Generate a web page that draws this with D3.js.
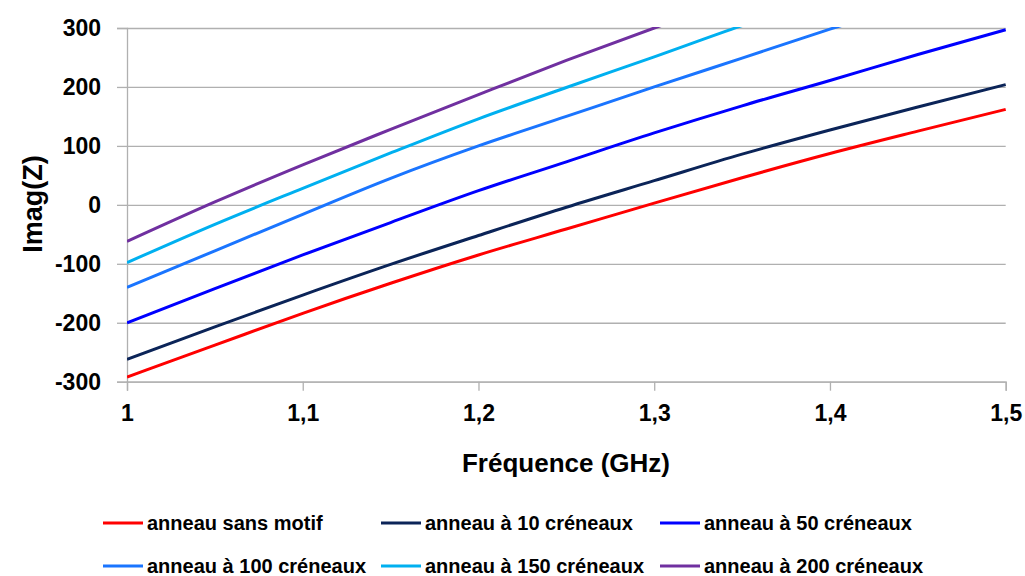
<!DOCTYPE html>
<html><head><meta charset="utf-8">
<script src="https://cdn.jsdelivr.net/npm/d3@7"></script>
<style>
html,body{margin:0;padding:0;background:#fff;}
svg{display:block;font-family:"Liberation Sans",Arial,sans-serif;}
</style></head>
<body><svg id="chart" width="1025" height="576"></svg>
<script>
const freqs = [1.0, 1.05, 1.1, 1.15, 1.2, 1.25, 1.3, 1.35, 1.4, 1.45, 1.5];
const sansMotif   = [-292, -238, -184, -133, -85, -41, 3, 46, 87, 125, 162];
const creneaux10  = [-262, -207, -153, -101, -52, -4, 41, 86, 127, 166, 204];
const creneaux50  = [-200, -142, -85, -30, 24, 73, 122, 168, 211, 255, 297];
const creneaux100 = [-140, -78, -16, 45, 100, 150, 200, 249, 298, 345, null];
const creneaux150 = [-98, -33, 28, 88, 146, 199, 251, 304, 352, null, null];
const creneaux200 = [-62, 5, 68, 128, 187, 245, 300, 352, null, null, null];
const seriesNames = ["anneau sans motif", "anneau à 10 créneaux", "anneau à 50 créneaux",
                     "anneau à 100 créneaux", "anneau à 150 créneaux", "anneau à 200 créneaux"];
const seriesColors = ["#ff0000", "#0b2458", "#0000ff", "#1a75ff", "#00b0f0", "#7030a0"];
const xTicks = [1, 1.1, 1.2, 1.3, 1.4, 1.5];
const xTickLabels = ["1", "1,1", "1,2", "1,3", "1,4", "1,5"];
const yTicks = [-300, -200, -100, 0, 100, 200, 300];
const xTitle = "Fréquence (GHz)";
const yTitle = "Imag(Z)";

const allSeries = [sansMotif, creneaux10, creneaux50, creneaux100, creneaux150, creneaux200];

const svg = d3.select("#chart");
const L = 127, R = 1005.7, T = 28, B = 381.7;
const x = d3.scaleLinear().domain([1, 1.5]).range([L, R]);
const y = d3.scaleLinear().domain([-300, 300]).range([B, T]);
const grid = "#b0b0b0";

// horizontal gridlines + y ticks
const yAxis = svg.append("g").attr("transform", `translate(${L},0)`)
  .call(d3.axisLeft(y).tickValues(yTicks).tickSize(10).tickPadding(16).tickFormat(d => String(d)));
yAxis.select(".domain").attr("stroke", grid).attr("stroke-width", 1.3);
yAxis.selectAll(".tick line").attr("stroke", grid).attr("stroke-width", 1.3);
yAxis.selectAll(".tick").append("line").attr("x1", 0).attr("x2", R - L)
  .attr("stroke", grid).attr("stroke-width", 1.3);
yAxis.selectAll("text").attr("font-size", 23).attr("font-weight", "bold").attr("fill", "#000")
  .attr("font-family", "Liberation Sans, Arial, sans-serif");

// x axis
const xAxis = svg.append("g").attr("transform", `translate(0,${B})`)
  .call(d3.axisBottom(x).tickValues(xTicks).tickSize(9).tickPadding(14)
    .tickFormat((d, i) => xTickLabels[i]));
xAxis.select(".domain").attr("stroke", grid).attr("stroke-width", 1.3);
xAxis.selectAll(".tick line").attr("stroke", grid).attr("stroke-width", 1.3);
xAxis.selectAll("text").attr("font-size", 23).attr("font-weight", "bold").attr("fill", "#000")
  .attr("font-family", "Liberation Sans, Arial, sans-serif");

// clip
svg.append("defs").append("clipPath").attr("id", "plot")
  .append("rect").attr("x", L).attr("y", T - 1).attr("width", R - L + 3).attr("height", B - T + 2);

const line = d3.line()
  .defined(d => d[1] !== null)
  .x(d => x(d[0])).y(d => y(d[1]))
  .curve(d3.curveMonotoneX);

const gLines = svg.append("g").attr("clip-path", "url(#plot)");
allSeries.forEach((vals, i) => {
  const pts = freqs.map((f, j) => [f, vals[j]]).filter(d => d[1] !== null);
  gLines.append("path").datum(pts)
    .attr("d", line).attr("fill", "none")
    .attr("stroke", seriesColors[i]).attr("stroke-width", 3)
    .attr("stroke-linejoin", "round");
});

// titles
svg.append("text").attr("x", 566).attr("y", 472).attr("text-anchor", "middle")
  .attr("font-size", 26).attr("font-weight", "bold").text(xTitle);
svg.append("text").attr("transform", "translate(42,204) rotate(-90)")
  .attr("text-anchor", "middle").attr("font-size", 27).attr("font-weight", "bold").text(yTitle);

// legend
const legPos = [[103, 523], [381, 523], [660, 523], [103, 566], [381, 566], [660, 566]];
seriesNames.forEach((name, i) => {
  const [lx, ly] = legPos[i];
  const g = svg.append("g").attr("transform", `translate(${lx},${ly})`);
  g.append("line").attr("x1", 0).attr("x2", 40).attr("y1", 0).attr("y2", 0)
    .attr("stroke", seriesColors[i]).attr("stroke-width", 3);
  g.append("text").attr("x", 44).attr("y", 0).attr("dy", "0.35em")
    .attr("font-size", 20).attr("font-weight", "bold").text(name);
});
</script></body></html>
